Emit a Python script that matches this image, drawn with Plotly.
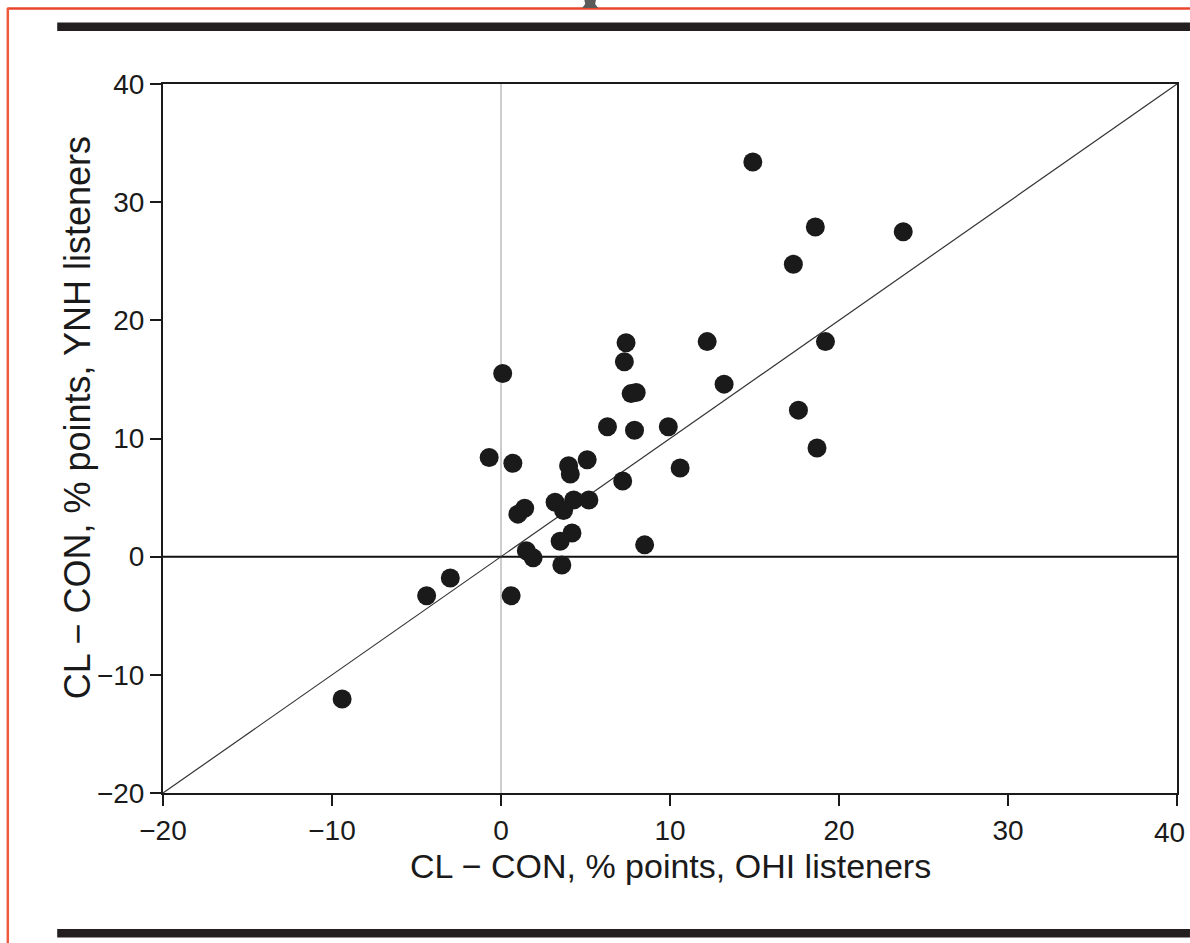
import plotly.graph_objects as go

# Data
ohi = [0.1, 7.4, 7.3, 7.7, 8.0, 6.3, 7.9, 9.9, -0.7, 0.7, 4.0, 5.1, 4.1, 10.6, 7.2,
       3.2, 4.3, 5.2, 3.7, 1.0, 1.4, 4.2, 3.5, 8.5, 1.5, 1.9, 3.6, -3.0, -4.4, 0.6,
       -9.4, 14.9, 18.6, 23.8, 17.3, 12.2, 19.2, 13.2, 17.6, 18.7]
ynh = [15.5, 18.1, 16.5, 13.8, 13.9, 11.0, 10.7, 11.0, 8.4, 7.9, 7.7, 8.2, 7.0, 7.5, 6.4,
       4.6, 4.8, 4.8, 3.9, 3.6, 4.1, 2.0, 1.3, 1.0, 0.5, -0.1, -0.7, -1.8, -3.3, -3.3,
       -12.05, 33.4, 27.9, 27.5, 24.75, 18.2, 18.2, 14.6, 12.4, 9.2]
axis_range = [-20, 40]
tick_vals = [-20, -10, 0, 10, 20, 30, 40]
tick_text = ["\u221220", "\u221210", "0", "10", "20", "30", "40"]
x_title = "CL \u2212 CON, % points, OHI listeners"
y_title = "CL \u2212 CON, % points, YNH listeners"

W, H = 1190, 943
L, R, T, B = 163, 1179, 84, 793


def px(x):
    return (x - L) / (R - L)


def py(y):
    return (B - y) / (B - T)


font = "Liberation Sans, Arial, Helvetica, sans-serif"
tick_size = 28

fig = go.Figure()
fig.add_trace(go.Scatter(
    x=ohi, y=ynh, mode="markers",
    marker=dict(size=19, color="#1a1a1a", line=dict(width=0)),
    showlegend=False, cliponaxis=False,
))

shapes = [
    # reference lines
    dict(type="line", xref="x", yref="y", x0=0, x1=0, y0=-20, y1=40,
         line=dict(color="#9a9a9a", width=1), layer="below"),
    dict(type="line", xref="x", yref="y", x0=-20, x1=40, y0=0, y1=0,
         line=dict(color="#111", width=2), layer="below"),
    dict(type="line", xref="x", yref="y", x0=-20, x1=40, y0=-20, y1=40,
         line=dict(color="#333", width=1.2), layer="below"),
    # page decorations: red frame, black rules
    dict(type="line", xref="paper", yref="paper", x0=px(7), x1=px(1192), y0=py(8.5), y1=py(8.5),
         line=dict(color="#E8452C", width=2.5)),
    dict(type="line", xref="paper", yref="paper", x0=px(7.5), x1=px(7.5), y0=py(8), y1=py(945),
         line=dict(color="#F05A3C", width=2.5)),
    dict(type="rect", xref="paper", yref="paper", x0=px(57), x1=px(1192), y0=py(22.5), y1=py(31),
         line=dict(width=0), fillcolor="#231F20"),
    dict(type="rect", xref="paper", yref="paper", x0=px(57), x1=px(1192), y0=py(929), y1=py(937.5),
         line=dict(width=0), fillcolor="#231F20"),
    dict(type="path", xref="paper", yref="paper",
         path=f"M {px(585)} {py(-1)} L {px(586)} {py(4)} L {px(583)} {py(8)} L {px(599)} {py(8)} "
              f"L {px(596)} {py(4)} L {px(597)} {py(-1)} Z",
         line=dict(width=0), fillcolor="#5a5a5a"),
]

annotations = [
    dict(text=x_title, xref="paper", yref="paper", x=px(672), y=py(866),
         xanchor="center", yanchor="middle", showarrow=False,
         font=dict(family=font, size=34, color="#1a1a1a")),
    dict(text=y_title, xref="paper", yref="paper", x=px(77), y=py(418),
         xanchor="center", yanchor="middle", showarrow=False, textangle=-90,
         font=dict(family=font, size=36, color="#1a1a1a")),
    # last x tick label sits at the page edge in the reference; keep it fully visible
    dict(text=tick_text[-1], xref="paper", yref="paper", x=px(1189), y=py(815),
         xanchor="right", yanchor="top", showarrow=False,
         font=dict(family=font, size=tick_size, color="#1a1a1a")),
]

axis_common = dict(
    range=axis_range, tickvals=tick_vals, ticktext=tick_text,
    showgrid=False, zeroline=False,
    showline=True, linecolor="#1a1a1a", linewidth=2, mirror=True,
    ticks="outside", ticklen=11, tickwidth=2, tickcolor="#1a1a1a",
    tickfont=dict(family=font, size=tick_size, color="#1a1a1a"),
)

fig.update_layout(
    width=W, height=H,
    margin=dict(l=L, r=W - R, t=T, b=H - B, pad=0),
    paper_bgcolor="white", plot_bgcolor="white",
    xaxis=axis_common, yaxis=axis_common,
    shapes=shapes, annotations=annotations,
    showlegend=False,
)

fig.write_html("out.html")
